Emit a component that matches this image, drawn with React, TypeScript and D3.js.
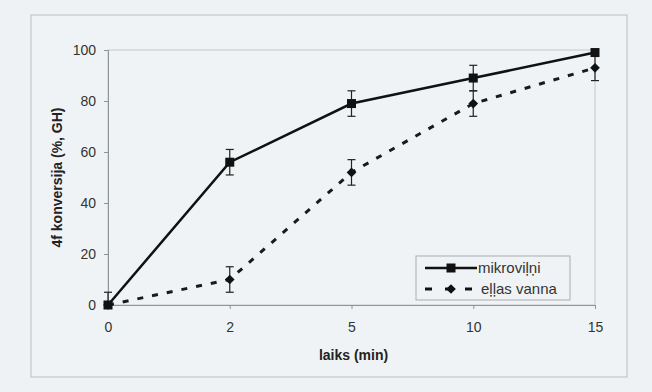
import * as d3 from 'd3';
import { useEffect, useRef } from 'react';

const categories = ['0', '2', '5', '10', '15'];
const mikroValues = [0, 56, 79, 89, 99];
const mikroErrors = [5, 5, 5, 5, 1];
const ellasValues = [0, 10, 52, 79, 93];
const ellasErrors = [0, 5, 5, 5, 5];
const yTicks = [0, 20, 40, 60, 80, 100];

const W = 652;
const H = 392;
const plot = { left: 108, right: 595, top: 50, bottom: 305 };
const FONT = '"Liberation Sans", Arial, sans-serif';

const App = () => {
    const ref = useRef<SVGSVGElement>(null);

    useEffect(() => {
        const svg = d3.select(ref.current);
        svg.selectAll('*').remove();

        const x = d3.scalePoint().domain(categories).range([plot.left, plot.right]);
        const y = d3.scaleLinear().domain([0, 100]).range([plot.bottom, plot.top]);

        // background + chart frame
        svg.append('rect').attr('width', W).attr('height', H).attr('fill', '#eef2f4');
        svg.append('rect')
            .attr('x', 31).attr('y', 15).attr('width', 596).attr('height', 362)
            .attr('fill', '#eff3f5').attr('stroke', '#b9bdbf').attr('stroke-width', 1);

        // plot area border
        svg.append('rect')
            .attr('x', plot.left).attr('y', plot.top)
            .attr('width', plot.right - plot.left).attr('height', plot.bottom - plot.top)
            .attr('fill', 'none').attr('stroke', '#c4c8ca').attr('stroke-width', 1);

        // y axis
        const yAxis = svg.append('g')
            .attr('transform', `translate(${plot.left},0)`)
            .call(d3.axisLeft(y).tickValues(yTicks).tickSize(4).tickPadding(8));
        yAxis.select('.domain').attr('stroke', '#8f9496');
        yAxis.selectAll('.tick line').attr('stroke', '#8f9496');
        yAxis.selectAll('.tick text')
            .attr('font-family', FONT).attr('font-size', 14).attr('fill', '#333');

        // x axis
        const xAxis = svg.append('g')
            .attr('transform', `translate(0,${plot.bottom})`)
            .call(d3.axisBottom(x).tickSize(4).tickPadding(13).tickSizeOuter(0));
        xAxis.select('.domain').attr('stroke', '#8f9496');
        xAxis.selectAll('.tick line').attr('stroke', '#8f9496');
        xAxis.selectAll('.tick text')
            .attr('font-family', FONT).attr('font-size', 14).attr('fill', '#333');

        // axis titles
        svg.append('text')
            .attr('transform', `translate(62,${(plot.top + plot.bottom) / 2}) rotate(-90)`)
            .attr('text-anchor', 'middle')
            .attr('font-family', FONT).attr('font-size', 14).attr('font-weight', 'bold')
            .attr('fill', '#222')
            .text('4f konversija (%, GH)');
        svg.append('text')
            .attr('x', (plot.left + plot.right) / 2 + 2).attr('y', 360)
            .attr('text-anchor', 'middle')
            .attr('font-family', FONT).attr('font-size', 14).attr('font-weight', 'bold')
            .attr('fill', '#222')
            .text('laiks (min)');

        const line = d3.line<number>()
            .x((_, i) => x(categories[i]) as number)
            .y(d => y(d));

        // error bars; at zero only the upper half is visible
        const drawErrors = (vals: number[], errs: number[]) => {
            const g = svg.append('g').attr('stroke', '#222').attr('stroke-width', 1.2);
            vals.forEach((v, i) => {
                if (!errs[i]) return;
                const cx = x(categories[i]) as number;
                const lo = Math.max(0, v - errs[i]);
                const hi = v + errs[i];
                g.append('line').attr('x1', cx).attr('x2', cx).attr('y1', y(lo)).attr('y2', y(hi));
                if (lo > 0) {
                    g.append('line').attr('x1', cx - 4).attr('x2', cx + 4).attr('y1', y(lo)).attr('y2', y(lo));
                }
                g.append('line').attr('x1', cx - 4).attr('x2', cx + 4).attr('y1', y(hi)).attr('y2', y(hi));
            });
        };

        // eļļas vanna (dashed, diamonds)
        svg.append('path')
            .datum(ellasValues)
            .attr('d', line)
            .attr('fill', 'none').attr('stroke', '#1a1a1a')
            .attr('stroke-width', 3).attr('stroke-dasharray', '6,9');
        drawErrors(ellasValues, ellasErrors);
        svg.append('g').selectAll('path')
            .data(ellasValues)
            .join('path')
            .attr('d', d3.symbol(d3.symbolDiamond2, 60)())
            .attr('transform', (d, i) => `translate(${x(categories[i])},${y(d)})`)
            .attr('fill', '#111');

        // mikroviļņi (solid, squares)
        drawErrors(mikroValues, mikroErrors);
        svg.append('path')
            .datum(mikroValues)
            .attr('d', line)
            .attr('fill', 'none').attr('stroke', '#111').attr('stroke-width', 2.5);
        svg.append('g').selectAll('rect')
            .data(mikroValues)
            .join('rect')
            .attr('x', (d, i) => (x(categories[i]) as number) - 4.5)
            .attr('y', d => y(d) - 4.5)
            .attr('width', 9).attr('height', 9)
            .attr('fill', '#111');

        // legend
        const lg = svg.append('g');
        lg.append('rect')
            .attr('x', 416).attr('y', 256).attr('width', 154).attr('height', 44)
            .attr('fill', '#eff3f5').attr('stroke', '#a9adaf').attr('stroke-width', 1);
        lg.append('line')
            .attr('x1', 425).attr('x2', 477).attr('y1', 268).attr('y2', 268)
            .attr('stroke', '#111').attr('stroke-width', 2.5);
        lg.append('rect').attr('x', 446.5).attr('y', 263.5).attr('width', 9).attr('height', 9).attr('fill', '#111');
        lg.append('text')
            .attr('x', 478).attr('y', 273)
            .attr('font-family', FONT).attr('font-size', 15).attr('fill', '#333')
            .text('mikroviļņi');
        lg.append('line')
            .attr('x1', 425).attr('x2', 477).attr('y1', 289).attr('y2', 289)
            .attr('stroke', '#111').attr('stroke-width', 3).attr('stroke-dasharray', '7,13');
        lg.append('path')
            .attr('d', d3.symbol(d3.symbolDiamond2, 60)())
            .attr('transform', 'translate(451,289)')
            .attr('fill', '#111');
        lg.append('text')
            .attr('x', 481).attr('y', 294)
            .attr('font-family', FONT).attr('font-size', 15).attr('fill', '#333')
            .text('eļļas vanna');
    }, []);

    return (
        <div style={{ position: 'fixed', left: 0, top: 0 }}>
            <svg ref={ref} width={W} height={H} style={{ display: 'block' }} />
        </div>
    );
};

export default App;
